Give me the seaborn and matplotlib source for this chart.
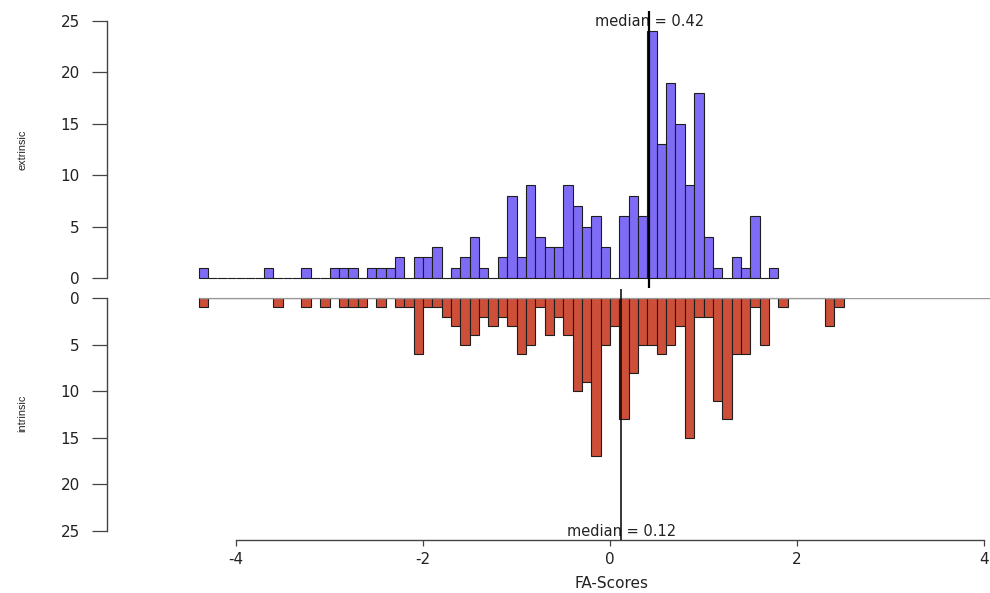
import numpy as np
import pandas as pd
import matplotlib
matplotlib.use("Agg")
import matplotlib.pyplot as plt
import seaborn as sns

# ---- data ----
bin_width = 0.1
top_first_bin = -4.4
bottom_first_bin = -4.4

extrinsic_counts = [
    1, 0, 0, 0, 0, 0, 0, 1, 0, 0,
    0, 1, 0, 0, 1, 1, 1, 0, 1, 1,
    1, 2, 0, 2, 2, 3, 0, 1, 2, 4,
    1, 0, 2, 8, 2, 9, 4, 3, 3, 9,
    7, 5, 6, 3, 0, 6, 8, 6, 24, 13,
    19, 15, 9, 18, 4, 1, 0, 2, 1, 6,
    0, 1,
]
intrinsic_counts = [
    1, 0, 0, 0, 0, 0, 0, 0, 1, 0,
    0, 1, 0, 1, 0, 1, 1, 1, 0, 1,
    0, 1, 1, 6, 1, 1, 2, 3, 5, 4,
    2, 3, 2, 3, 6, 5, 1, 4, 2, 4,
    10, 9, 17, 5, 3, 13, 8, 5, 5, 6,
    5, 3, 15, 2, 2, 11, 13, 6, 6, 1,
    5, 0, 1, 0, 0, 0, 0, 3, 1,
]
median_extrinsic = 0.42
median_intrinsic = 0.12
x_ticks = [-4, -2, 0, 2, 4]
y_ticks = [0, 5, 10, 15, 20, 25]
top_label = "extrinsic"
bottom_label = "intrinsic"
x_label = "FA-Scores"

# ---- build tables ----
def make_df(first, counts):
    n = len(counts)
    edges = np.round(first + bin_width * np.arange(n + 1), 2)
    centers = edges[:-1] + bin_width / 2
    return pd.DataFrame({"x": centers, "count": counts}), [float(e) for e in edges]

df_top, edges_top = make_df(top_first_bin, extrinsic_counts)
df_bot, edges_bot = make_df(bottom_first_bin, intrinsic_counts)

sns.set_theme(style="white")
plt.rcParams["font.family"] = ["DejaVu Sans"]

W, H = 990, 593
fig = plt.figure(figsize=(W / 100, H / 100), dpi=100)

def px_x(p):
    return p / W

def px_y(p):
    return 1 - p / H

ax_left = px_x(107)
ax_w = px_x(990) - ax_left
ax_top = fig.add_axes([ax_left, px_y(278), ax_w, px_y(21) - px_y(278)])
ax_bot = fig.add_axes([ax_left, px_y(531), ax_w, px_y(298) - px_y(531)])

xlim = ((107 - 610) / 93.5, (990 - 610) / 93.5)

blue = "#7F6CF6"
red = "#CD4F39"
edge = "#1E1E1E"

sns.histplot(data=df_top, x="x", weights="count", bins=edges_top, ax=ax_top,
             color=blue, edgecolor=edge, linewidth=0.8, alpha=1)
sns.histplot(data=df_bot, x="x", weights="count", bins=edges_bot, ax=ax_bot,
             color=red, edgecolor=edge, linewidth=0.8, alpha=1)

for ax in (ax_top, ax_bot):
    for p in ax.patches:
        p.set_clip_on(False)
    ax.set_xlim(*xlim)
    ax.set_ylim(0, 25)
    ax.set_xlabel("")
    ax.set_ylabel("")
    ax.set_facecolor("none")
    for s in ("top", "right"):
        ax.spines[s].set_visible(False)
    ax.spines["left"].set_bounds(0, 25)
    ax.spines["left"].set_color("#444444")
    ax.spines["left"].set_linewidth(1.0)
    ax.set_yticks(y_ticks)
    ax.set_yticklabels([str(t) for t in y_ticks])
    ax.tick_params(axis="y", which="major", left=True, length=10.5, width=0.9,
                   color="#444444", pad=9, labelsize=11, labelcolor="#222222")
    ax.grid(False)

ax_bot.invert_yaxis()

# top panel: no x axis
ax_top.spines["bottom"].set_visible(False)
ax_top.set_xticks([])

# bottom panel x axis
ax_bot.spines["bottom"].set_position(("outward", 6.5))
ax_bot.spines["bottom"].set_bounds(x_ticks[0], x_ticks[-1])
ax_bot.spines["bottom"].set_color("#444444")
ax_bot.spines["bottom"].set_linewidth(1.0)
ax_bot.set_xticks(x_ticks)
ax_bot.set_xticklabels([str(t) for t in x_ticks])
ax_bot.tick_params(axis="x", bottom=True, length=4.3, width=0.9, color="#444444",
                   pad=4, labelsize=11, labelcolor="#222222")

# zero line of bottom panel
ax_bot.hlines(0, bottom_first_bin, xlim[1], color="#999999", linewidth=1.0, zorder=3)

# median lines
ax_top.vlines(median_extrinsic, -1, 26, color="black", linewidth=1.6, clip_on=False, zorder=4)
ax_bot.vlines(median_intrinsic, -1, 26, color="black", linewidth=1.1, clip_on=False, zorder=4)
ax_top.text(median_extrinsic, 25, f"median = {median_extrinsic}", ha="center", va="center",
            fontsize=10.5, color="#222222", clip_on=False, zorder=3)
ax_bot.text(median_intrinsic, 25, f"median = {median_intrinsic}", ha="center", va="center",
            fontsize=10.5, color="#222222", clip_on=False, zorder=3)

# axis labels
narrow = ["Liberation Sans Narrow", "Liberation Sans", "DejaVu Sans"]
fig.text(px_x(22), px_y(150), top_label, rotation=90, ha="center", va="center",
         fontsize=7.8, family=narrow, color="#222222")
fig.text(px_x(22), px_y(413), bottom_label, rotation=90, ha="center", va="center",
         fontsize=7.8, family=narrow, color="#222222")
fig.text(px_x(612), px_y(583), x_label, ha="center", va="center", fontsize=11,
         color="#222222")

fig.savefig("out.png", dpi=100, facecolor="white")
